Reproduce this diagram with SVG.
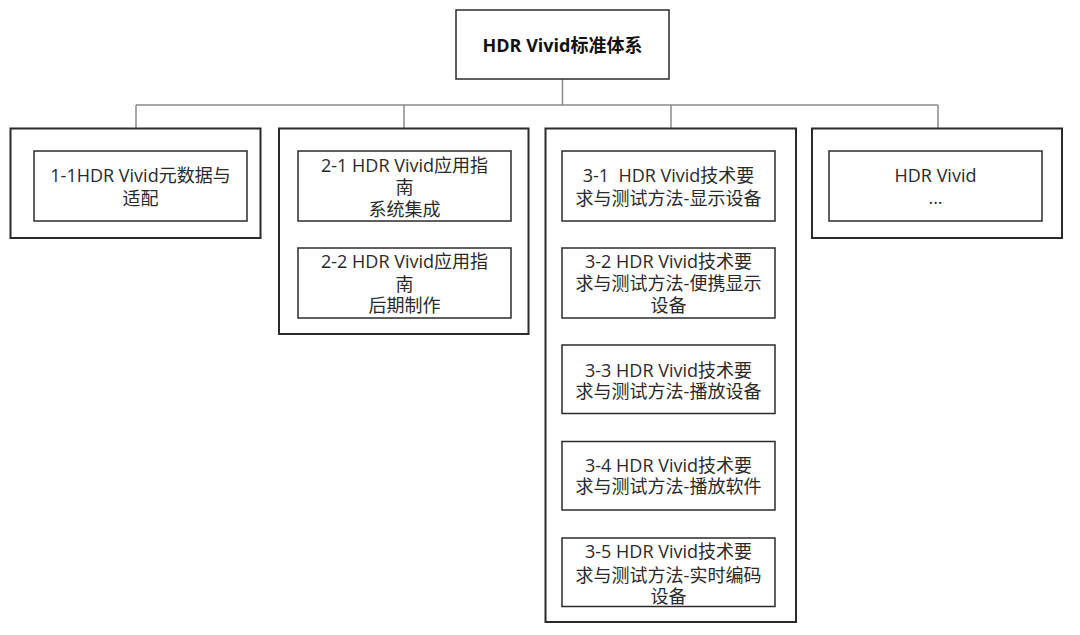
<svg xmlns="http://www.w3.org/2000/svg" width="1080" height="635" viewBox="0 0 1080 635">
<style>
.bg{fill:#ffffff}
.outer{fill:#ffffff;stroke:#2b2b2b;stroke-width:2}
.inner{fill:#ffffff;stroke:#2b2b2b;stroke-width:1.5}
.conn{fill:none;stroke:#8a8a8a;stroke-width:1.5}
text{font-family:"Open Sans","Noto Sans CJK SC",sans-serif;font-size:18px;fill:#2a2a2a;text-anchor:middle}
.title{font-weight:bold;fill:#111}
</style>
<rect class="bg" x="0" y="0" width="1080" height="635"/>
<g id="connectors">
<path class="conn" d="M562.5 79 V105 M136 105 H938 M136 105 V128.5 M404 105 V128.5 M671 105 V128.5 M938 105 V128.5"/>
</g>
<g id="root">
<rect class="inner" x="456" y="10" width="213" height="69"/>
<text class="title" x="562.5" y="51.5">HDR Vivid标准体系</text>
</g>
<g id="group1">
<rect class="outer" x="10.5" y="128.5" width="250" height="109.5"/>
</g>
<g id="n1-1">
<rect class="inner" x="34" y="151" width="213" height="70"/>
<text x="140.5" y="182">1-1HDR Vivid元数据与</text>
<text x="140.5" y="205">适配</text>
</g>
<g id="group2">
<rect class="outer" x="279" y="128.5" width="249.5" height="205.5"/>
</g>
<g id="n2-1">
<rect class="inner" x="298" y="151" width="213" height="70"/>
<text x="404.5" y="171.5">2-1 HDR Vivid应用指</text>
<text x="404.5" y="194">南</text>
<text x="404.5" y="216">系统集成</text>
</g>
<g id="n2-2">
<rect class="inner" x="298" y="248" width="213" height="70"/>
<text x="404.5" y="268">2-2 HDR Vivid应用指</text>
<text x="404.5" y="290.5">南</text>
<text x="404.5" y="311.5">后期制作</text>
</g>
<g id="group3">
<rect class="outer" x="545.5" y="128.5" width="250.5" height="493.5"/>
</g>
<g id="n3-1">
<rect class="inner" x="562" y="151" width="213" height="70"/>
<text x="668.5" y="182" xml:space="preserve">3-1  HDR Vivid技术要</text>
<text x="668.5" y="205">求与测试方法-显示设备</text>
</g>
<g id="n3-2">
<rect class="inner" x="562" y="248" width="213" height="70"/>
<text x="668.5" y="268">3-2 HDR Vivid技术要</text>
<text x="668.5" y="290">求与测试方法-便携显示</text>
<text x="668.5" y="311.5">设备</text>
</g>
<g id="n3-3">
<rect class="inner" x="562" y="345" width="213" height="68.5"/>
<text x="668.5" y="376.5">3-3 HDR Vivid技术要</text>
<text x="668.5" y="398">求与测试方法-播放设备</text>
</g>
<g id="n3-4">
<rect class="inner" x="562" y="441.5" width="213" height="68.5"/>
<text x="668.5" y="471.5">3-4 HDR Vivid技术要</text>
<text x="668.5" y="493">求与测试方法-播放软件</text>
</g>
<g id="n3-5">
<rect class="inner" x="562" y="538" width="213" height="68.5"/>
<text x="668.5" y="558">3-5 HDR Vivid技术要</text>
<text x="668.5" y="581.5">求与测试方法-实时编码</text>
<text x="668.5" y="603">设备</text>
</g>
<g id="group4">
<rect class="outer" x="812" y="128.5" width="250" height="109.5"/>
</g>
<g id="n4">
<rect class="inner" x="829" y="151" width="213" height="70"/>
<text x="935.5" y="181.5">HDR Vivid</text>
<text x="935.5" y="204">...</text>
</g>
</svg>
